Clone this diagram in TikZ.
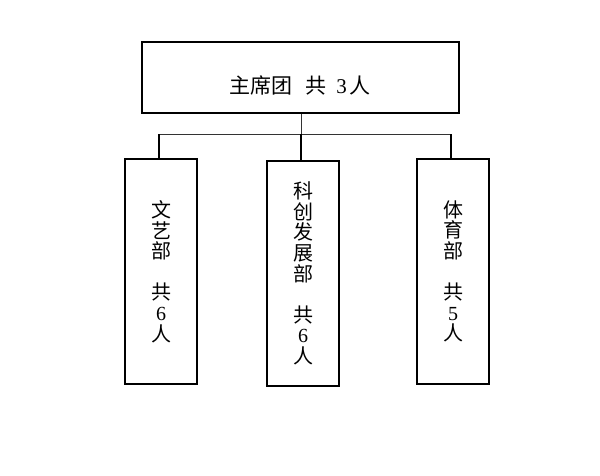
\documentclass[tikz,border=0pt]{standalone}
\usepackage{fontspec}
\setmainfont{Liberation Serif}
\newfontfamily\cjk{Noto Sans CJK SC}
\begin{document}
\begin{tikzpicture}[x=1pt,y=-1pt,
  box/.style={draw, line width=2pt, inner sep=0pt},
  vbox/.style={box, minimum width=72pt, minimum height=225pt, align=center,
    font=\cjk\fontsize{20}{20.6}\selectfont},
  conn/.style={line width=0.7pt, black!80},
  stub/.style={line width=2pt}]
\useasboundingbox (0,0) rectangle (600,475);
\node[box, minimum width=317pt, minimum height=71pt] (top) at (300.5,77.5) {};
\node[font=\cjk\fontsize{21}{21}\selectfont, inner sep=0pt] (title) at (300,85)
  {主席团\hspace{13pt}共\hspace{10pt}{\rmfamily 3}\hspace{3pt}人};
\node[vbox] (wy) at (161,271.5) {文\\艺\\部\\[20.6pt]共\\{\rmfamily 6}\\人};
\node[vbox] (kc) at (303,273.5) {科\\创\\发\\展\\部\\[20.6pt]共\\{\rmfamily 6}\\人};
\node[vbox] (ty) at (453,271.5) {体\\育\\部\\[20.6pt]共\\{\rmfamily 5}\\人};
\coordinate (jc) at (301,134);
\coordinate (jl) at (159,134);
\coordinate (jr) at (451,134);
\draw[conn] (top.south -| jc) -- (jc);
\draw[conn] (jl) -- (jr);
\draw[stub] (jl) -- (wy.north -| jl);
\draw[stub] (jc) -- (kc.north -| jc);
\draw[stub] (jr) -- (ty.north -| jr);
\end{tikzpicture}
\end{document}
